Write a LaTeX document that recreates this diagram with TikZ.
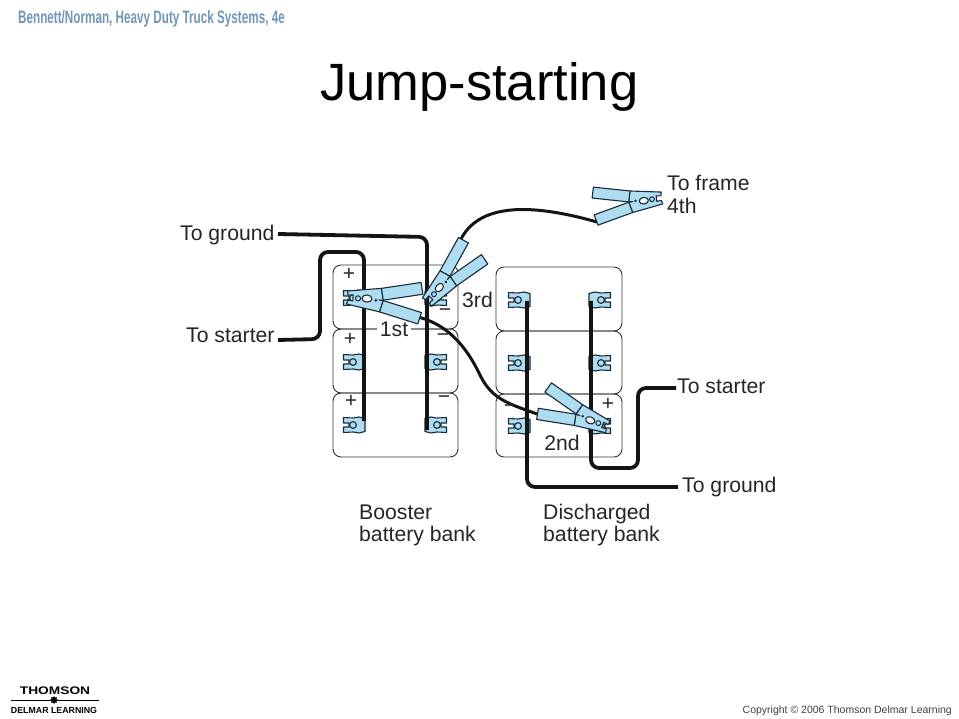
\documentclass[tikz,border=0pt]{standalone}
\usepackage{fontspec}
\usetikzlibrary{shapes.geometric}
\setmainfont{Liberation Sans}
\definecolor{clampblue}{HTML}{AEDDF2}
\definecolor{inkdark}{HTML}{1A2A3A}
\definecolor{hdrblue}{HTML}{7396B8}
\tikzset{
  x=1pt,y=-1pt,
  batt/.style={draw=black!80,line width=0.9pt,rounded corners=8pt},
  cable/.style={draw=black!92,line width=3.8pt,rounded corners=8pt},
  lead/.style={draw=black!92,line width=3pt},
  part/.style={draw=inkdark,line width=1.1pt,fill=clampblue,line join=round},
  lab/.style={anchor=base west,inner sep=0pt,font=\fontsize{21.2}{24}\selectfont,text=black!85},
  sign/.style={inner sep=0pt,font=\fontsize{21}{24}\selectfont,text=black!85},
  terminal/.pic={
    \path[part] (-10.5,-7.5) -- (-1,-7) -- (5,-8) -- (11,-6.5) -- (11,6.5) -- (5,8) -- (-1,7) -- (-10.5,7.5) -- (-10.5,2) -- (-5,2) -- (-5,-2) -- (-10.5,-2) -- cycle;
    \draw[part] (-1,0) circle (3.4);
  },
  clamp/.pic={
    \path[part] (0,-6.5) -- (33.6,-11.8) -- (36.4,-0.2) -- (32,0) -- (36.4,0.2) -- (33.6,11.8) -- (0,6.5) -- (1,2.5) -- (6,3) -- (6,-3) -- (1,-2.5) -- cycle;
    \path[part] (33.6,-11.8) -- (72.6,-20.8) -- (75.4,-9.2) -- (36.4,-0.2) -- cycle;
    \path[part] (33.6,11.8) -- (72.6,20.8) -- (75.4,9.2) -- (36.4,0.2) -- cycle;
    \draw[inkdark,line width=1.1pt,fill=white] (20,-0.5) ellipse (5 and 3.6);
    \draw[inkdark,line width=1pt,fill=clampblue] (11,0) circle (2.6);
    \fill[inkdark] (29,0.5) circle (1.5);
  }
}
\begin{document}
\begin{tikzpicture}
\useasboundingbox (0,0) rectangle (959,719);
\fill[white] (0,0) rectangle (959,719);

% header, title, footer
\node[anchor=base west,inner sep=0pt,text=hdrblue] (hdr) at (18,24) {\scalebox{0.65}[1]{\fontsize{18}{20}\selectfont\bfseries Bennett/Norman, Heavy Duty Truck Systems, 4e}};
\node[anchor=base west,inner sep=0pt] (title) at (320,101) {\fontsize{52.5}{60}\selectfont Jump-starting};
\node[inner sep=0pt,anchor=base] (logoa) at (55,694) {\scalebox{1.25}[1]{\fontsize{11}{12}\selectfont\bfseries THOMSON}};
\node[inner sep=0pt,anchor=base] (logob) at (54,713) {\fontsize{8.8}{10}\selectfont\bfseries DELMAR LEARNING};
\coordinate (ruleL) at (11,700);
\coordinate (ruleR) at (99,700);
\draw[black,line width=0.6pt] (ruleL) -- (ruleR);
\node[star,star points=8,fill=black,inner sep=0pt,minimum size=8pt] (logostar) at (54,700) {};
\node[anchor=base east,inner sep=0pt,text=black!75] (copy) at (952,713) {\fontsize{10.5}{12}\selectfont Copyright © 2006 Thomson Delmar Learning};

% battery cases
\foreach \ya/\yb in {265/329,329/393,393/457}{\draw[batt] (333,\ya) rectangle (458,\yb);}
\foreach \ya/\yb in {267/331,331/394,394/457}{\draw[batt] (496,\ya) rectangle (622,\yb);}

% terminals
\foreach \y in {298,362,425}{
  \pic at (354,\y) {terminal};
  \pic[xscale=-1] at (436,\y) {terminal};
}
\foreach \y in {300,363,426}{
  \pic at (519,\y) {terminal};
  \pic[xscale=-1] at (600,\y) {terminal};
}

% named ends
\coordinate (gndL) at (278,234);
\coordinate (gndLend) at (427,430);
\coordinate (stL) at (278,340);
\coordinate (stLend) at (364,421);
\coordinate (gndR) at (678,487);
\coordinate (gndRend) at (527,301);
\coordinate (stR) at (676,388);
\coordinate (stRend) at (591,301);
\coordinate (lead3) at (460,241);
\coordinate (lead4) at (597,222);
\coordinate (lead1) at (418,317);
\coordinate (lead2) at (537,414);

% main cables
\draw[cable] (gndL) -- (427,237) -- (gndLend);
\draw[cable] (stL) -- (320,339) -- (320,252) -- (364,252) -- (stLend);
\draw[cable] (gndRend) -- (527,487) -- (gndR);
\draw[cable] (stR) -- (638,388) -- (638,468) -- (591,468) -- (stRend);

% jumper leads
\draw[lead] (lead3) .. controls (478,203) and (530,203) .. (lead4);
\draw[lead] (lead1) .. controls (450,325) and (468,350) .. (480,375) .. controls (492,400) and (510,404) .. (lead2);

% clamps
\pic[rotate=-4.5] at (347,297.5) {clamp};
\pic[rotate=48,scale=0.95] at (427,302) {clamp};
\pic[rotate=158,scale=0.95] at (608,427) {clamp};
\pic[rotate=187,scale=0.92] at (662,198) {clamp};

% signs
\node[sign] (p1) at (349,274) {+};
\node[sign] (p2) at (350,339) {+};
\node[sign] (p3) at (351,401) {+};
\node[sign] (m1) at (445,313) {−};
\node[sign] (m2) at (443,338) {−};
\node[sign] (m3) at (444,400) {−};
\node[sign] (m4) at (510,409) {−};
\node[sign] (p4) at (608,404) {+};

% labels
\node[lab] (l1) at (180,241) {To ground};
\node[lab] (l2) at (186,343) {To starter};
\node[lab] (l3) at (667,191) {To frame};
\node[lab] (l4) at (667,214) {4th};
\node[lab] (l5) at (677,393) {To starter};
\node[lab] (l6) at (682,492) {To ground};
\node[lab] (l7) at (462,308) {3rd};
\node[lab,fill=white,inner xsep=3pt,anchor=base] (l8) at (394,337) {1st};
\node[lab,anchor=base] (l9) at (562,450) {2nd};
\node[lab] (l10) at (359,519) {Booster};
\node[lab] (l11) at (359,541) {battery bank};
\node[lab] (l12) at (543,519) {Discharged};
\node[lab] (l13) at (543,541) {battery bank};
\end{tikzpicture}
\end{document}
